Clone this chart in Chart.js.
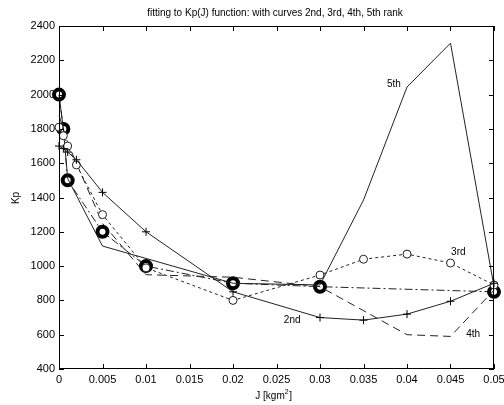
<!DOCTYPE html>
<html>
<head>
<meta charset="utf-8">
<script src="https://cdn.jsdelivr.net/npm/chart.js@4/dist/chart.umd.min.js"></script>
<style>
    html, body { margin: 0; padding: 0; background: #fff; }
    #wrap { width: 504px; height: 405px; }
</style>
</head>
<body>
<div id="wrap"><canvas id="kpChart" width="504" height="405"></canvas></div>
<script>
// Dados medidos
const jData = [0, 0.0005, 0.001, 0.005, 0.01, 0.02, 0.03, 0.05];
const kpData = [2000, 1800, 1500, 1200, 1000, 900, 880, 850];

// Ajustes
const j2 = [0, 0.0005, 0.001, 0.002, 0.005, 0.01, 0.02, 0.03, 0.035, 0.04, 0.045, 0.05];
const kp2 = [1700, 1685, 1665, 1620, 1430, 1200, 850, 700, 685, 720, 795, 900];

const j3 = [0, 0.0005, 0.001, 0.002, 0.005, 0.01, 0.02, 0.03, 0.035, 0.04, 0.045, 0.05];
const kp3 = [1810, 1760, 1700, 1590, 1300, 990, 800, 948, 1040, 1070, 1018, 890];

const j4 = [0, 0.0005, 0.001, 0.002, 0.005, 0.01, 0.02, 0.03, 0.04, 0.045, 0.05];
const kp4 = [1880, 1800, 1720, 1600, 1250, 950, 935, 880, 600, 590, 860];

const j5 = [0, 0.0005, 0.001, 0.005, 0.02, 0.03, 0.035, 0.04, 0.045, 0.05];
const kp5 = [2000, 1800, 1510, 1117, 900, 890, 1385, 2044, 2300, 880];

// Rótulos das curvas
const curveLabels = ['2nd', '3rd', '4th', '5th'];
const labelJ = [0.0268, 0.0459, 0.0476, 0.0385];
const labelKp = [686, 1082, 604, 2062];

const xTicks = [0, 0.005, 0.01, 0.015, 0.02, 0.025, 0.03, 0.035, 0.04, 0.045, 0.05];

const FONT = '"Liberation Sans", Arial, sans-serif';
const LINE = '#222';

function pares(xs, ys) {
    return xs.map((x, i) => ({ x: x, y: ys[i] }));
}

// Ticks para dentro, caixa e textos (estilo MATLAB)
const matlabFrame = {
    id: 'matlabFrame',
    afterDraw(chart) {
        const ctx = chart.ctx;
        const a = chart.chartArea;
        const xs = chart.scales.x;
        const ys = chart.scales.y;
        ctx.save();
        ctx.strokeStyle = '#000';
        ctx.lineWidth = 1;
        ctx.strokeRect(a.left + 0.5, a.top + 0.5, a.right - a.left - 1, a.bottom - a.top - 1);
        ctx.beginPath();
        xTicks.forEach(v => {
            const px = Math.round(xs.getPixelForValue(v)) + 0.5;
            ctx.moveTo(px, a.bottom); ctx.lineTo(px, a.bottom - 5);
            ctx.moveTo(px, a.top); ctx.lineTo(px, a.top + 5);
        });
        for (let v = 400; v <= 2400; v += 200) {
            const py = Math.round(ys.getPixelForValue(v)) + 0.5;
            ctx.moveTo(a.left, py); ctx.lineTo(a.left + 5, py);
            ctx.moveTo(a.right, py); ctx.lineTo(a.right - 5, py);
        }
        ctx.stroke();

        ctx.fillStyle = '#000';
        ctx.textAlign = 'center';
        ctx.textBaseline = 'middle';
        ctx.font = '10px ' + FONT;
        ctx.fillText('fitting to Kp(J) function: with curves 2nd, 3rd, 4th, 5th rank', 275, 13);

        curveLabels.forEach((t, i) => {
            ctx.fillText(t, xs.getPixelForValue(labelJ[i]), ys.getPixelForValue(labelKp[i]));
        });

        // Eixo x
        ctx.font = '10px ' + FONT;
        ctx.fillText('J [kgm', 270, 396);
        const w = ctx.measureText('J [kgm').width;
        ctx.font = '7px ' + FONT;
        ctx.fillText('2', 270 + w / 2 + 2, 392);
        ctx.font = '10px ' + FONT;
        ctx.fillText(']', 270 + w / 2 + 6, 396);

        // Eixo y
        ctx.translate(16, 198);
        ctx.rotate(-Math.PI / 2);
        ctx.fillText('Kp', 0, 0);
        ctx.restore();
    }
};

new Chart(document.getElementById('kpChart'), {
    type: 'scatter',
    data: {
        datasets: [
            {
                label: '2nd',
                data: pares(j2, kp2),
                showLine: true,
                borderColor: LINE,
                borderWidth: 1,
                pointStyle: 'cross',
                pointRadius: 4,
                pointBorderColor: '#000',
                pointBorderWidth: 1
            },
            {
                label: '3rd',
                data: pares(j3, kp3),
                showLine: true,
                borderColor: LINE,
                borderWidth: 1,
                borderDash: [3, 3],
                pointStyle: 'circle',
                pointRadius: 4,
                pointBackgroundColor: '#fff',
                pointBorderColor: '#222',
                pointBorderWidth: 1
            },
            {
                label: '4th',
                data: pares(j4, kp4),
                showLine: true,
                borderColor: LINE,
                borderWidth: 1,
                borderDash: [8, 5],
                pointRadius: 0
            },
            {
                label: '5th',
                data: pares(j5, kp5),
                showLine: true,
                borderColor: LINE,
                borderWidth: 1,
                pointRadius: 0
            },
            {
                label: 'dados',
                data: pares(jData, kpData),
                showLine: true,
                borderColor: LINE,
                borderWidth: 1,
                borderDash: [8, 3, 2, 3],
                pointStyle: 'circle',
                pointRadius: 5,
                pointBackgroundColor: '#fff',
                pointBorderColor: '#000',
                pointBorderWidth: 4
            }
        ]
    },
    options: {
        responsive: false,
        animation: false,
        clip: false,
        layout: { padding: { top: 26, right: 10, left: 0, bottom: 0 } },
        plugins: {
            legend: { display: false },
            tooltip: { enabled: false },
            title: { display: false }
        },
        scales: {
            x: {
                type: 'linear',
                min: 0,
                max: 0.05,
                afterBuildTicks: (axis) => { axis.ticks = xTicks.map(v => ({ value: v })); },
                afterFit: (axis) => {
                    axis.height = 36;
                    axis.paddingLeft = 0;
                    axis.paddingRight = 0;
                },
                grid: { display: false, drawTicks: false },
                border: { display: false },
                ticks: {
                    color: '#000',
                    font: { family: FONT, size: 11 },
                    padding: 4,
                    maxRotation: 0,
                    autoSkip: false,
                    callback: (v) => String(+v.toFixed(3))
                }
            },
            y: {
                min: 400,
                max: 2400,
                afterFit: (axis) => {
                    axis.width = 59;
                    axis.paddingTop = 0;
                    axis.paddingBottom = 0;
                },
                grid: { display: false, drawTicks: false },
                border: { display: false },
                ticks: {
                    stepSize: 200,
                    color: '#000',
                    font: { family: FONT, size: 11 },
                    padding: 4,
                    callback: (v) => String(v)
                }
            }
        }
    },
    plugins: [matlabFrame]
});
</script>
</body>
</html>
